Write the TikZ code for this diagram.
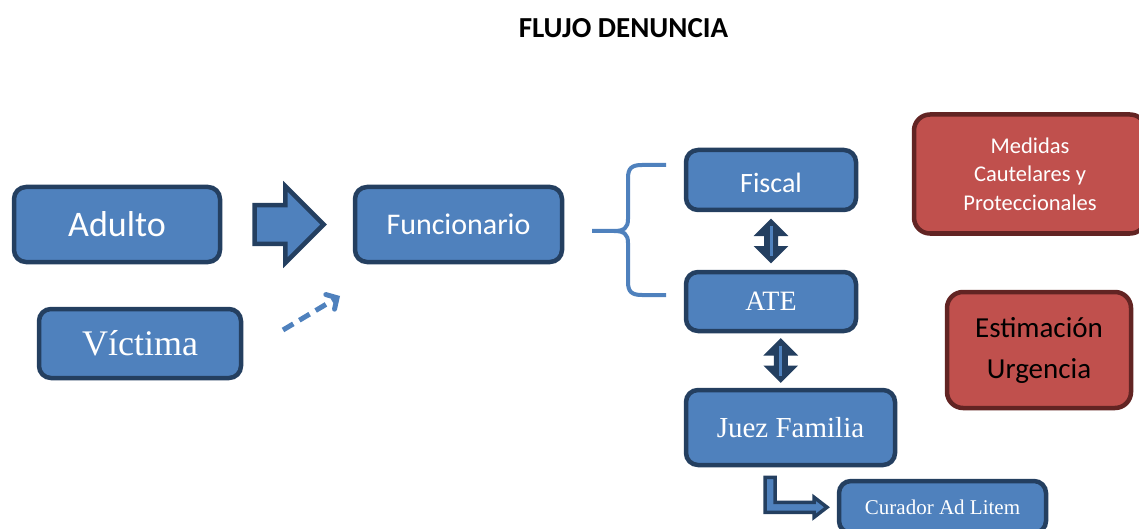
\documentclass[tikz,border=0pt]{standalone}
\usepackage{fontspec}
\setmainfont{Carlito}
\newfontfamily\serifface{Liberation Serif}
\usetikzlibrary{arrows.meta,shapes.arrows,calc}
\definecolor{boxblue}{HTML}{4F81BD}
\definecolor{boxnavy}{HTML}{243F60}
\definecolor{boxred}{HTML}{C0504D}
\definecolor{boxmaroon}{HTML}{622423}

\begin{document}
\begin{tikzpicture}[x=1pt,y=-1pt,
  bluebox/.style={draw=boxnavy, fill=boxblue, line width=4.5pt, rounded corners=12pt,
    text=white, inner sep=0pt, align=center},
  redbox/.style={draw=boxmaroon, fill=boxred, line width=4.5pt, rounded corners=16pt,
    inner sep=0pt, align=center},
  blockarrow/.style={draw=boxnavy, fill=boxblue, line width=4.5pt},
  linkshape/.style={draw=boxnavy, fill=boxnavy, line width=2pt, line join=miter},
  linkcore/.style={draw=boxblue, line width=3pt},
  softline/.style={draw=boxblue, line width=4pt}
]
\useasboundingbox (0,0) rectangle (1139,529);

% title
\node[font=\bfseries\fontsize{29}{34}\selectfont] (title) at (623.5,28) {FLUJO DENUNCIA};

% left column
\node[bluebox, minimum width=206pt, minimum height=75pt,
  font=\fontsize{36}{40}\selectfont] (adulto) at (117,224.5) {Adulto};
\node[bluebox, minimum width=202pt, minimum height=69pt,
  font=\serifface\fontsize{36}{40}\selectfont] (victima) at (140,343.5) {Víctima};
\node[bluebox, minimum width=207pt, minimum height=75pt,
  font=\fontsize{30}{34}\selectfont] (func) at (458.5,224.5) {Funcionario};

% block arrow from Adulto to Funcionario
\node[single arrow, blockarrow, inner sep=0pt, inner ysep=17pt,
  single arrow head extend=19pt, single arrow tip angle=90,
  minimum height=69pt] (big) at ($(adulto.east)!0.5!(func.west)+(-8,0)$) {};

% dashed pointer from Víctima towards Funcionario
\coordinate (vstart) at (283,330);
\coordinate (vend) at (340,296);
\draw[draw=boxblue, line width=5pt, dash pattern=on 12pt off 7pt,
  -{Straight Barb[length=8pt,width=17pt,line cap=round]}] (vstart) -- (vend);

% brace
\coordinate (bracetop) at (666,165);
\coordinate (bracemid) at (592,231);
\coordinate (bracebot) at (666,295);
\draw[softline] (bracetop) -- (642,165)
  .. controls (632,165) and (628,168) .. (628,178) -- (628,219)
  .. controls (628,228) and (624,231) .. (614,231) -- (bracemid);
\draw[softline] (bracebot) -- (642,295)
  .. controls (632,295) and (628,292) .. (628,282) -- (628,243)
  .. controls (628,234) and (624,231) .. (614,231);

% right column
\node[bluebox, minimum width=170pt, minimum height=60pt,
  font=\fontsize{28}{32}\selectfont] (fiscal) at (771,180)
  {\raisebox{-3pt}[\height][\depth]{Fiscal}};
\node[bluebox, minimum width=170pt, minimum height=59pt,
  font=\serifface\fontsize{28}{32}\selectfont] (ate) at (771,301.5) {ATE};
\node[bluebox, minimum width=209pt, minimum height=75pt,
  font=\serifface\fontsize{29}{33}\selectfont] (juez) at (790.5,427.5) {Juez Familia};
\node[bluebox, minimum width=207pt, minimum height=52pt,
  font=\serifface\fontsize{21}{25}\selectfont] (curador) at (942.5,507) {Curador Ad Litem};

% two-way links between the stacked boxes
\coordinate (fa) at ($(fiscal.south)!0.5!(ate.north)$);
\coordinate (aj) at ($(ate.south)!0.5!(juez.north)$);
\foreach \c in {fa,aj}{
  \draw[linkshape, shift={(\c)}]
    (0,-21) -- (15,-6) -- (6,-6) -- (6,6) -- (15,6) -- (0,21)
    -- (-15,6) -- (-6,6) -- (-6,-6) -- (-15,-6) -- cycle;
  \draw[linkcore, shift={(\c)}] (0,-15) -- (0,15);
}

% bent arrow from Juez Familia to Curador Ad Litem
\draw[blockarrow, line width=3.5pt, shift={(juez.south)}]
  (-25.5,10) -- (-15.5,10) -- (-15.5,35) -- (23.5,35) -- (23.5,30)
  -- (36.5,40) -- (23.5,50) -- (23.5,45) -- (-25.5,45) -- cycle;

% red boxes
\node[redbox, minimum width=232pt, minimum height=119pt, text=white,
  font=\fontsize{22.5}{28.5}\selectfont] (medidas) at (1030,174)
  {Medidas\\Cautelares y\\Proteccionales};
\node[redbox, minimum width=184pt, minimum height=116pt, text=black,
  font=\fontsize{29}{41}\selectfont] (urgencia) at (1039,350)
  {Estimación\\Urgencia};
\end{tikzpicture}
\end{document}
